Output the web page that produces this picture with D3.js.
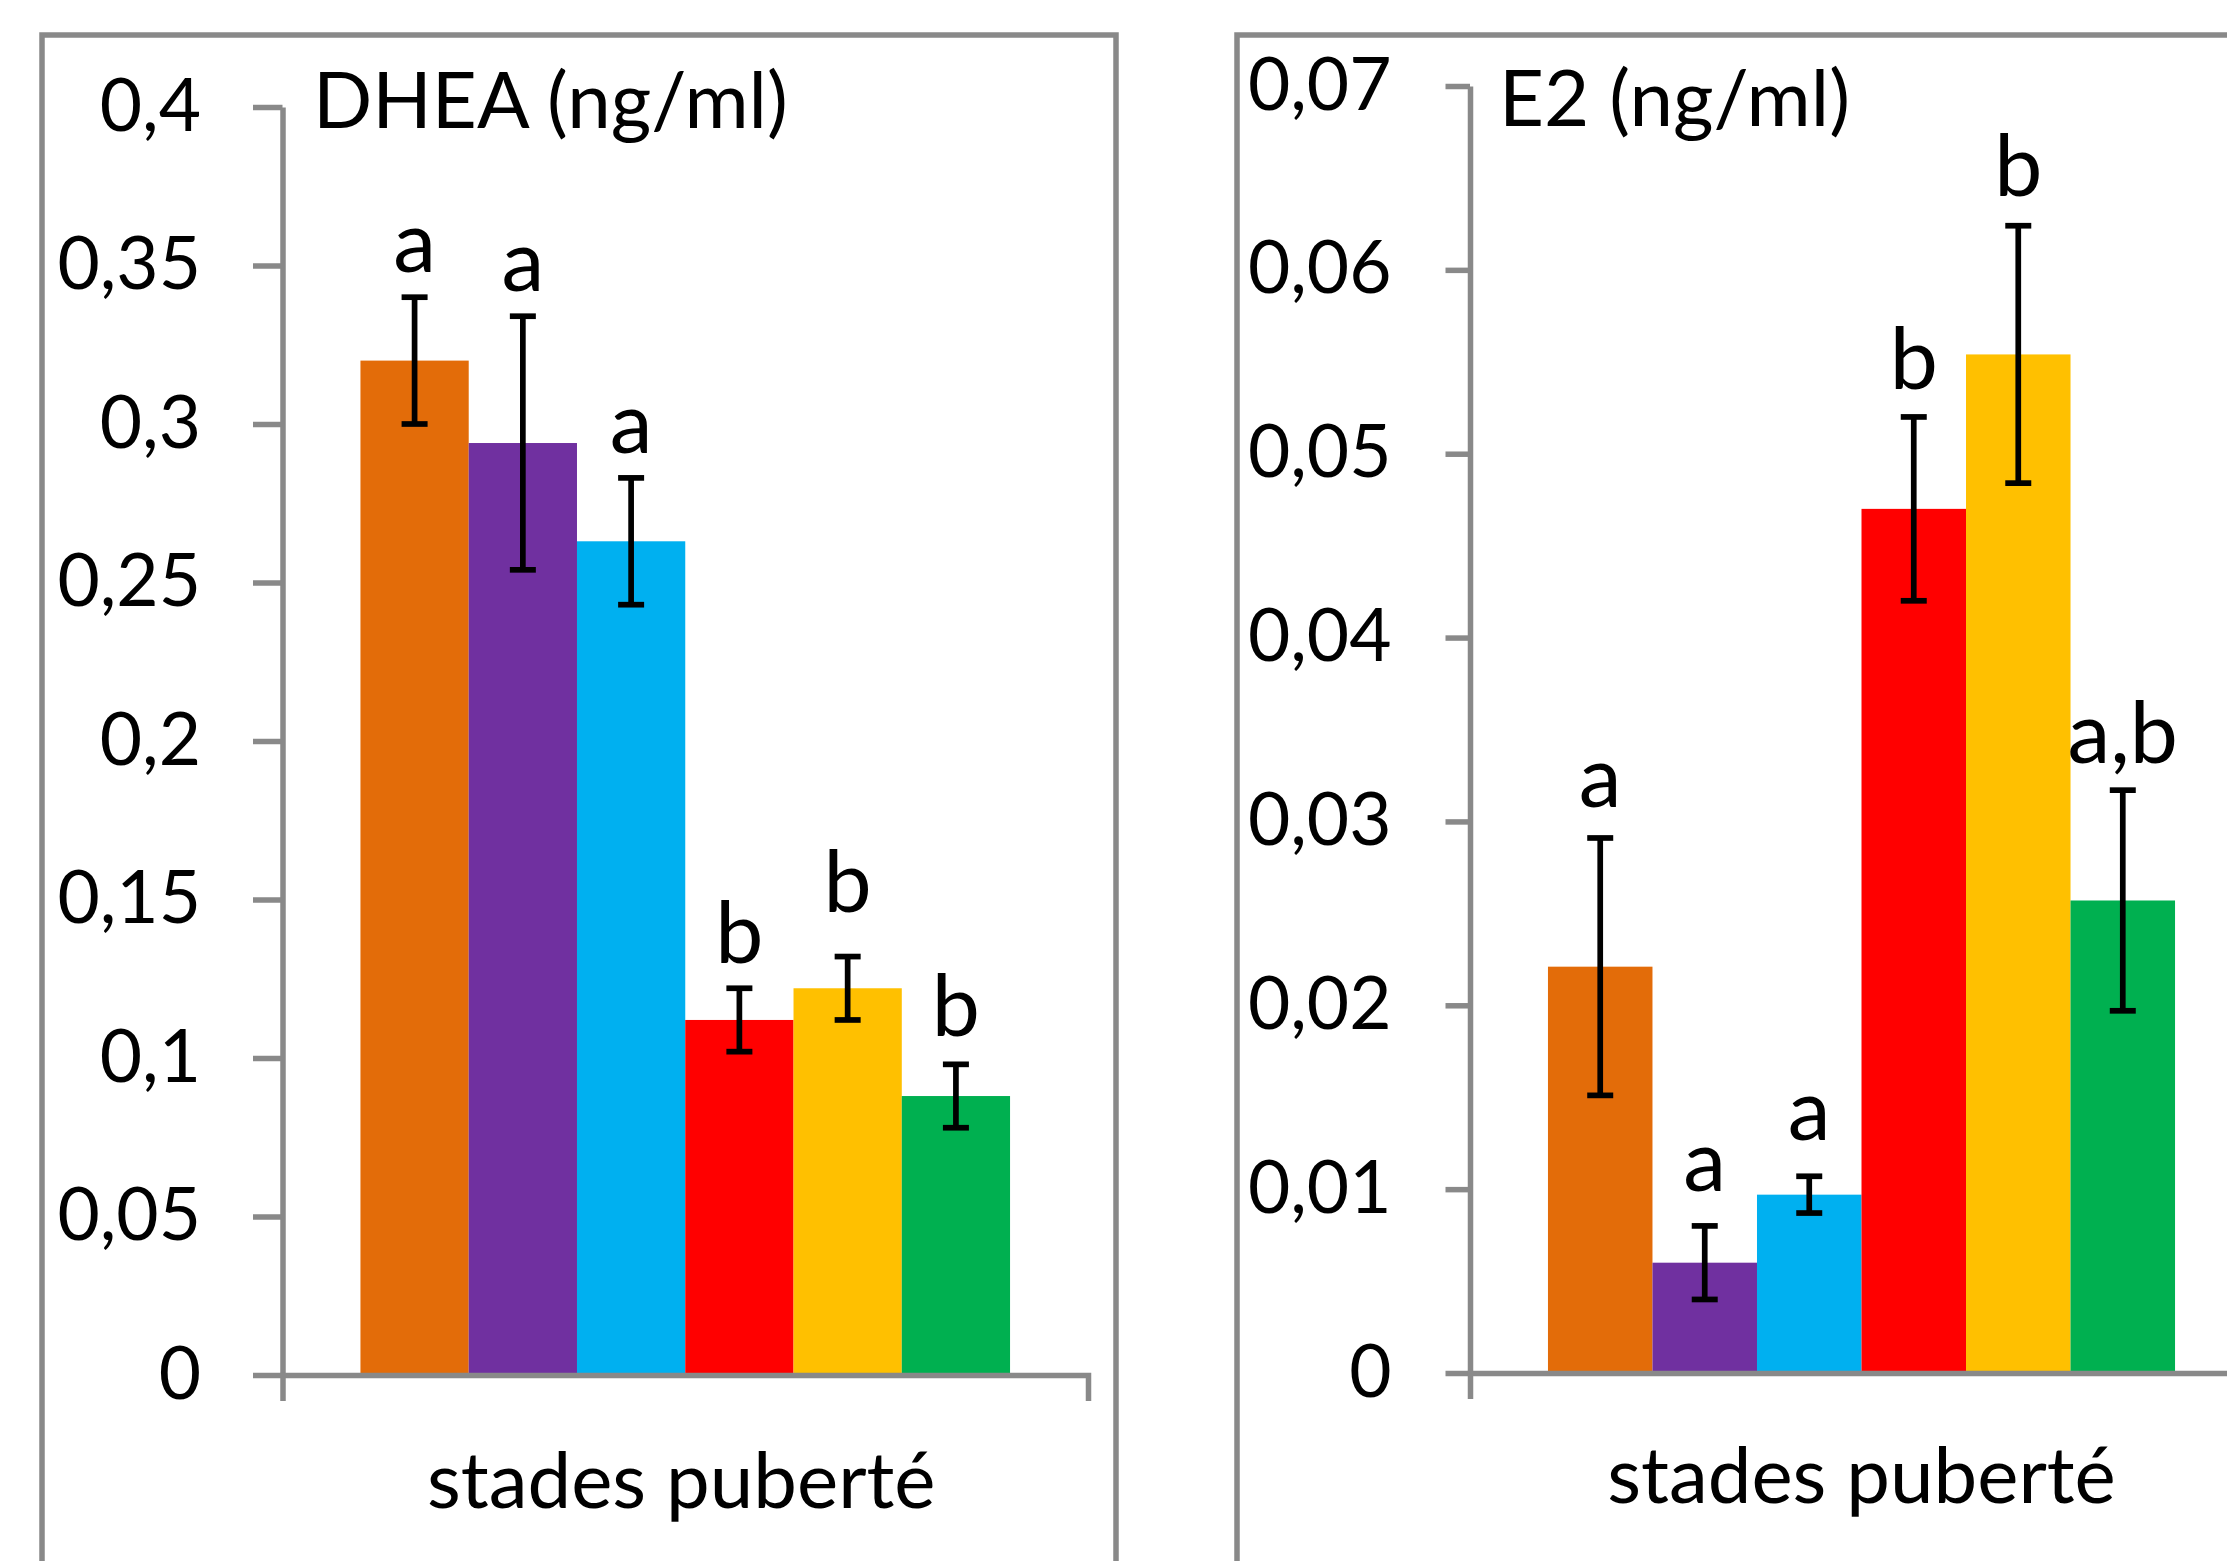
<!DOCTYPE html>
<html>
<head>
<meta charset="utf-8">
<script src="https://cdn.jsdelivr.net/npm/d3@7"></script>
<style>
html,body{margin:0;padding:0;background:#fff;overflow:hidden}
svg{display:block}
text{font-family:Lato, "Open Sans", sans-serif;fill:#000}
</style>
</head>
<body>
<svg id="chart" width="2227" height="1561"></svg>
<script>
// ---------- data ----------
const stages = ["stade 1", "stade 2", "stade 3", "stade 4", "stade 5", "adulte"];
const stageColors = ["#E36C09", "#7030A0", "#00B0F0", "#FF0000", "#FFC000", "#00B050"];
const category = "stades puberté";

const dheaTitle = "DHEA (ng/ml)";
const dheaValues = [0.320, 0.294, 0.263, 0.112, 0.122, 0.088];
const dheaErrors = [0.020, 0.040, 0.020, 0.010, 0.010, 0.010];
const dheaLetters = ["a", "a", "a", "b", "b", "b"];
const dheaLetterAt = [0.348, 0.342, 0.291, 0.130, 0.146, 0.107];
const dheaTicks = [0, 0.05, 0.1, 0.15, 0.2, 0.25, 0.3, 0.35, 0.4];

const e2Title = "E2 (ng/ml)";
const e2Values = [0.0221, 0.0060, 0.0097, 0.0470, 0.0554, 0.0257];
const e2Errors = [0.0070, 0.0020, 0.0010, 0.0050, 0.0070, 0.0060];
const e2Letters = ["a", "a", "a", "b", "b", "a,b"];
const e2LetterAt = [0.0308, 0.0099, 0.0127, 0.0535, 0.0640, 0.0332];
const e2Ticks = [0, 0.01, 0.02, 0.03, 0.04, 0.05, 0.06, 0.07];

// ---------- layout / style ----------
const GRAY = "#898989";
const AXIS_W = 5.5;
const fmt = v => String(+v.toFixed(4)).replace(".", ",");

const svg = d3.select("#chart");
svg.append("rect").attr("width", 2227).attr("height", 1561).attr("fill", "#fff");

function drawPanel(p) {
  const g = svg.append("g");
  // outer chart border
  g.append("rect")
    .attr("x", p.box[0]).attr("y", p.box[1])
    .attr("width", p.box[2]).attr("height", p.box[3])
    .attr("fill", "none").attr("stroke", GRAY).attr("stroke-width", AXIS_W);

  const y = d3.scaleLinear().domain([0, d3.max(p.ticks)]).range([p.y0, p.yTop]);
  const xCat = d3.scaleBand().domain([category]).range([p.xL, p.xR]);
  const x = d3.scaleBand().domain(stages).range([p.xL, p.xR]).paddingInner(0).paddingOuter(p.outerPad);

  // bars
  g.append("g").selectAll("rect").data(stages).join("rect")
    .attr("x", d => x(d)).attr("width", x.bandwidth())
    .attr("y", (d, i) => y(p.values[i]))
    .attr("height", (d, i) => y(0) - y(p.values[i]))
    .attr("fill", (d, i) => stageColors[i]);

  // y axis
  const yAxis = g.append("g").attr("transform", `translate(${p.xL},0)`)
    .call(d3.axisLeft(y).tickValues(p.ticks).tickSize(p.tickLen).tickSizeOuter(0).tickPadding(p.labelGap).tickFormat(fmt));
  yAxis.selectAll("path, line").attr("stroke", GRAY).attr("stroke-width", AXIS_W).attr("stroke-linecap", "butt");
  yAxis.selectAll("text").attr("font-size", 73).attr("dy", null).attr("y", 23).attr("font-family", "Lato").attr("fill", "#000");

  // x axis (single category, outer ticks pointing down)
  const xAxis = g.append("g").attr("transform", `translate(0,${p.y0})`)
    .call(d3.axisBottom(xCat).tickSize(0).tickSizeOuter(26).tickFormat(""));
  xAxis.select("path").attr("stroke", GRAY).attr("stroke-width", AXIS_W).attr("fill", "none");
  xAxis.selectAll("text").remove();

  // category label
  g.append("text")
    .attr("x", xCat(category) + xCat.bandwidth() / 2 + p.catDx)
    .attr("y", p.catY)
    .attr("text-anchor", "middle").attr("font-size", 78)
    .text(category);

  // error bars
  const eb = g.append("g").attr("stroke", "#000").attr("stroke-width", 5.7);
  stages.forEach((s, i) => {
    const cx = x(s) + x.bandwidth() / 2;
    const hi = y(p.values[i] + p.errors[i]);
    const lo = y(p.values[i] - p.errors[i]);
    eb.append("line").attr("x1", cx).attr("x2", cx).attr("y1", hi).attr("y2", lo);
    eb.append("line").attr("x1", cx - 13).attr("x2", cx + 13).attr("y1", hi).attr("y2", hi);
    eb.append("line").attr("x1", cx - 13).attr("x2", cx + 13).attr("y1", lo).attr("y2", lo);
  });

  // significance letters
  g.append("g").selectAll("text").data(stages).join("text")
    .attr("x", d => x(d) + x.bandwidth() / 2)
    .attr("y", (d, i) => y(p.letterAt[i]))
    .attr("text-anchor", "middle").attr("font-size", 86)
    .text((d, i) => p.letters[i]);

  // title
  g.append("text").attr("x", p.titleX).attr("y", p.titleY)
    .attr("font-size", 78).text(p.title);
}

drawPanel({
  box: [42, 35, 1074, 1700],
  xL: 282.5, xR: 1088, y0: 1375, yTop: 107, outerPad: 0.72,
  tickLen: 29.5, labelGap: 52,
  ticks: dheaTicks, values: dheaValues, errors: dheaErrors,
  letters: dheaLetters, letterAt: dheaLetterAt,
  title: dheaTitle, titleX: 313, titleY: 128,
  catY: 1508, catDx: -4
});

drawPanel({
  box: [1237, 35, 1100, 1700],
  xL: 1470, xR: 2253, y0: 1373, yTop: 86, outerPad: 0.746,
  tickLen: 24.5, labelGap: 54,
  ticks: e2Ticks, values: e2Values, errors: e2Errors,
  letters: e2Letters, letterAt: e2LetterAt,
  title: e2Title, titleX: 1499, titleY: 126,
  catY: 1503, catDx: 0
});
</script>
</body>
</html>
